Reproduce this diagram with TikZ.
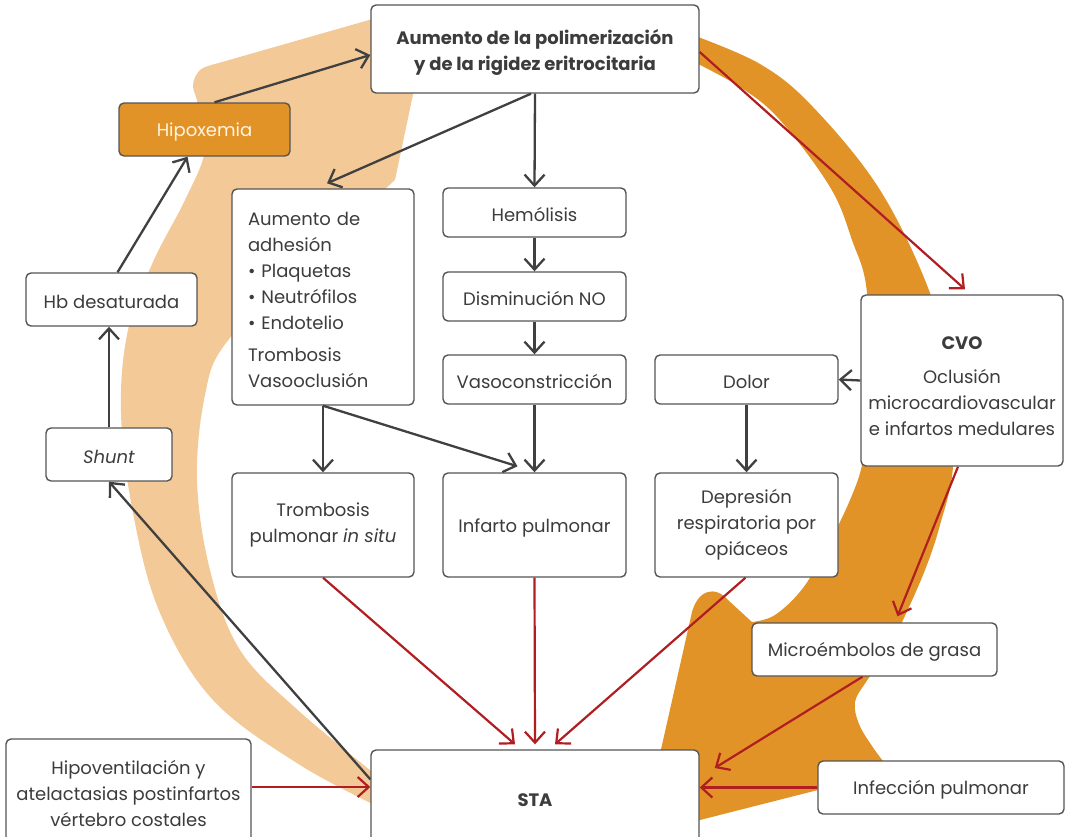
\documentclass[tikz,border=0pt]{standalone}
\usepackage{fontspec}
\setmainfont{Poppins}
\usetikzlibrary{arrows.meta,calc}
\definecolor{bandlight}{HTML}{F3CA97}
\definecolor{banddark}{HTML}{E29328}
\definecolor{linkred}{HTML}{B01E22}
\definecolor{linkgray}{HTML}{404040}
\definecolor{edgegray}{HTML}{555555}
\definecolor{inkgray}{HTML}{3C3C3C}
\definecolor{paletext}{HTML}{FFF4E2}

\begin{document}
\begin{tikzpicture}[x=1pt,y=-1pt,
  box/.style={draw=edgegray, line width=1.4pt, rounded corners=5pt, fill=white,
    text=inkgray, align=center, inner sep=0pt, font=\fontsize{18}{26}\selectfont,
    execute at begin node={\rule{0pt}{19pt}}},
  gray link/.style={draw=linkgray, line width=2.3pt, -{Straight Barb[length=11pt,width=20pt]}},
  red link/.style={draw=linkred, line width=2.2pt, -{Straight Barb[length=11pt,width=20pt]}},
]
\clip (0,0) rectangle (1066,836);

% background bands of the cycle
\fill[bandlight] (215,64) -- (390,14) -- (430,14) -- (415,85) -- (395,180)
  -- plot[smooth, tension=0.6] coordinates {(395,180) (300,268) (226,343) (205,395) (197,480) (210,570) (240,650) (300,712) (385,782)}
  -- (385,810)
  -- plot[smooth, tension=0.6] coordinates {(385,810) (300,765) (213,700) (160,613) (133,513) (121,413) (128,330) (153,262) (185,200) (205,150) (198,105) (193,85) (200,70) (215,64)}
  -- cycle;

\fill[banddark] plot[smooth, tension=0.6] coordinates {(690,34) (760,64) (813,107) (880,190) (930,293) (951,380) (953,467) (940,525) (925,570) (903,620) (885,655) (866,682) (855,702) (859,724) (872,746) (886,765)}
  -- (818,790) -- (700,820) -- (638,840) -- (662,745) -- (692,612)
  .. controls (698,590) and (715,585) .. (728,600) -- (752,622)
  -- plot[smooth, tension=0.6] coordinates {(752,622) (775,615) (803,588) (827,547) (850,500) (863,460) (868,400) (867,293) (852,240) (830,187) (780,120) (740,87) (690,60)}
  -- cycle;

% boxes
\node[box, minimum width=328, minimum height=88, font=\fontsize{18}{26}\selectfont\bfseries] (top) at (535,49)
  {\rule{0pt}{22pt}Aumento de la polimerización\\y de la rigidez eritrocitaria};
\node[box, minimum width=171, minimum height=53, fill=banddark, text=paletext] (hipox) at (204.5,129.5) {Hipoxemia};
\node[box, minimum width=171, minimum height=53] (hb) at (111.5,299.5) {Hb desaturada};
\node[box, minimum width=126, minimum height=53] (shunt) at (109,454.5) {\itshape Shunt};
\node[box, minimum width=182, minimum height=216, text width=150, align=left] (adh) at (323,297)
  {Aumento de\\adhesión\\• Plaquetas\\• Neutrófilos\\• Endotelio\\[6pt]Trombosis\\Vasooclusión};
\node[box, minimum width=183, minimum height=49] (hem) at (534.5,212.5) {Hemólisis};
\node[box, minimum width=183, minimum height=49] (dis) at (534.5,296.5) {Disminución NO};
\node[box, minimum width=183, minimum height=49] (vaso) at (534.5,379.5) {Vasoconstricción};
\node[box, minimum width=183, minimum height=49] (dolor) at (746.5,379.5) {Dolor};
\node[box, minimum width=202, minimum height=171] (cvo) at (962,380.5)
  {\rule{0pt}{25pt}{\bfseries CVO}\\[8pt]Oclusión\\microcardiovascular\\e infartos medulares};
\node[box, minimum width=182, minimum height=104] (trom) at (323,525) {Trombosis\\pulmonar \textit{in situ}};
\node[box, minimum width=183, minimum height=104] (infarto) at (534.5,525) {Infarto pulmonar};
\node[box, minimum width=183, minimum height=104] (dep) at (746.5,525) {Depresión\\respiratoria por\\opiáceos};
\node[box, minimum width=245, minimum height=53] (mic) at (874.5,649.5) {Microémbolos de grasa};
\node[box, minimum width=246, minimum height=53] (infe) at (941,787.5) {Infección pulmonar};
\node[box, minimum width=328, minimum height=94, font=\fontsize{18}{26}\selectfont\bfseries] (sta) at (535,797) {STA};
\node[box, minimum width=245, minimum height=108] (hipov) at (128.5,793)
  {Hipoventilación y\\atelactasias postinfartos\\vértebro costales};

% gray links
\draw[gray link] ([xshift=10]hipox.north) -- ([yshift=-6]top.west);
\draw[gray link] ([xshift=6]hb.north) -- ([xshift=-17]hipox.south);
\draw[gray link] (shunt.north) -- (shunt.north |- hb.south);
\draw[gray link] ([yshift=-30]sta.north west) -- (shunt.south);
\draw[gray link] ([xshift=-4]top.south) -- ([xshift=4,yshift=5]adh.north);
\draw[gray link] (top.south) -- (hem.north);
\draw[gray link] (hem.south) -- (dis.north);
\draw[gray link] (dis.south) -- (vaso.north);
\draw[gray link] (adh.south) -- (trom.north);
\draw[gray link] (adh.south) -- ([xshift=-17,yshift=6]infarto.north);
\draw[gray link] (vaso.south) -- (infarto.north);
\draw[gray link] (cvo.west) -- (dolor.east);
\draw[gray link] (dolor.south) -- (dep.north);

% red links
\draw[red link] ([yshift=-3]top.east) -- ([xshift=3,yshift=5]cvo.north);
\draw[red link] ([xshift=-4]cvo.south) -- ([xshift=23,yshift=6]mic.north);
\draw[red link] (trom.south) -- ([xshift=-20,yshift=5]sta.north);
\draw[red link] (infarto.south) -- ([yshift=5]sta.north);
\draw[red link] ([xshift=-1]dep.south) -- ([xshift=20,yshift=5]sta.north);
\draw[red link] ([xshift=-12]mic.south) -- ([xshift=15,yshift=29]sta.east);
\draw[red link] (infe.west) -- (infe.west -| sta.east);
\coordinate (hvout) at ([yshift=6]hipov.east);
\draw[red link] (hvout) -- (hvout -| sta.west);
\end{tikzpicture}
\end{document}
